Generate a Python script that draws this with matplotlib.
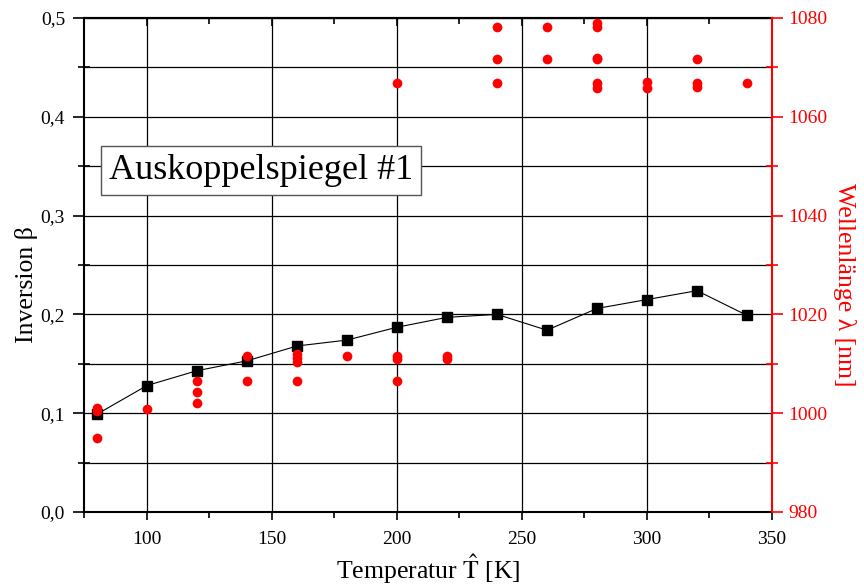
import numpy as np
import matplotlib.pyplot as plt
from matplotlib.ticker import MultipleLocator, FuncFormatter

plt.rcParams['font.family'] = ['Liberation Serif', 'DejaVu Serif']
plt.rcParams['mathtext.fontset'] = 'stix'

# inversion vs temperature
temp = [80, 100, 120, 140, 160, 180, 200, 220, 240, 260, 280, 300, 320, 340]
inversion = [0.099, 0.128, 0.143, 0.153, 0.168, 0.174, 0.187, 0.197, 0.200,
             0.184, 0.206, 0.215, 0.224, 0.199]

# laser wavelengths vs temperature
wl_temp = [80, 80, 80, 100, 120, 120, 120, 140, 140, 160, 160, 160, 160,
           180, 200, 200, 200, 200, 220, 220,
           240, 240, 240, 260, 260, 280, 280, 280, 280, 280, 280,
           300, 300, 320, 320, 320, 340]
wavelength = [1000.5, 1001.0, 994.9, 1000.8, 1006.5, 1004.2, 1002.1, 1011.6, 1006.5,
              1012.0, 1011.2, 1010.4, 1006.5, 1011.6, 1011.6, 1010.9, 1006.5, 1066.8,
              1011.6, 1010.9,
              1078.2, 1071.6, 1066.8, 1078.2, 1071.6, 1079.0, 1078.2, 1071.9, 1071.6,
              1066.8, 1065.8, 1067.0, 1065.8, 1071.6, 1066.8, 1066.0, 1066.8]

fig = plt.figure(figsize=(8.64, 5.88), dpi=100)
ax = fig.add_axes([0.0978, 0.1293, 0.7957, 0.8401])
ax2 = ax.twinx()

ax.plot(temp, inversion, color='k', lw=0.8, marker='s', ms=7, zorder=3)
ax2.plot(wl_temp, wavelength, 'o', color='red', ms=7, mec='none', zorder=4)

ax.set_xlim(75, 350)
ax.set_ylim(0, 0.5)
ax2.set_ylim(980, 1080)

ax.xaxis.set_major_locator(MultipleLocator(50))
ax.xaxis.set_minor_locator(MultipleLocator(25))
ax.yaxis.set_major_locator(MultipleLocator(0.1))
ax.yaxis.set_minor_locator(MultipleLocator(0.05))
ax2.yaxis.set_major_locator(MultipleLocator(20))
ax2.yaxis.set_minor_locator(MultipleLocator(10))
ax.yaxis.set_major_formatter(FuncFormatter(lambda v, p: f'{v:.1f}'.replace('.', ',')))

ax.grid(True, which='major', axis='x', color='k', lw=0.9)
ax.grid(True, which='both', axis='y', color='k', lw=0.9)
ax.set_axisbelow(True)

ax.tick_params(axis='x', which='major', direction='out', length=6, width=1.2,
               labelsize=14, pad=8)
ax.tick_params(axis='x', which='minor', direction='out', length=4, width=1.2)
ax.tick_params(axis='y', which='major', direction='out', length=8, width=1.2,
               labelsize=14, pad=6)
ax.tick_params(axis='y', which='minor', direction='inout', length=8, width=1.2)
ax2.tick_params(axis='y', which='major', direction='out', length=8, width=1.2,
                labelsize=14, colors='red')
ax2.tick_params(axis='y', which='minor', direction='inout', length=8, width=1.2, colors='red')

# top axis: ticks pointing inward, no labels
top = ax.secondary_xaxis('top')
top.xaxis.set_major_locator(MultipleLocator(50))
top.xaxis.set_minor_locator(MultipleLocator(25))
top.tick_params(which='major', direction='in', length=6, width=1.2, labeltop=False)
top.tick_params(which='minor', direction='in', length=4, width=1.2)
top.spines['top'].set_linewidth(1.5)

for s in ['left', 'bottom', 'top']:
    ax.spines[s].set_linewidth(1.5)
ax2.spines['right'].set_color('red')
ax2.spines['right'].set_linewidth(1.5)
for s in ['left', 'bottom', 'top']:
    ax2.spines[s].set_visible(False)
ax.spines['right'].set_visible(False)

ax.set_xlabel(r'Temperatur $\hat{\mathrm{T}}$ [K]', fontsize=18.5, labelpad=3)
ax.set_ylabel(r'Inversion β', fontsize=18.5, ha='center', va='center')
ax2.set_ylabel('Wellenlänge λ [nm]', fontsize=18.5, color='red', rotation=270,
               ha='center', va='center')
ax.yaxis.set_label_coords(-0.085, 0.46)
ax2.yaxis.set_label_coords(1.106, 0.46)

ax.text(145.5, 0.346, 'Auskoppelspiegel #1', fontsize=26, ha='center', va='center',
        bbox=dict(boxstyle='square,pad=0.22', fc='white', ec='#555555', lw=1), zorder=5)

fig.savefig('out.png', dpi=100)
